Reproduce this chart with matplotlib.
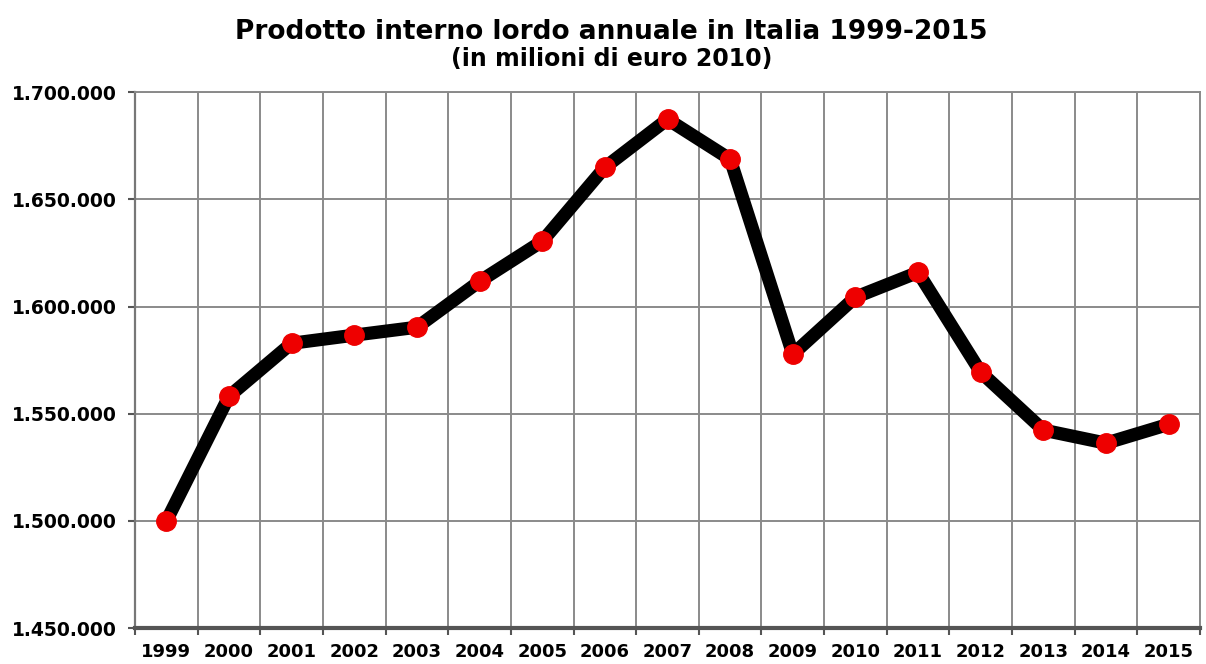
import matplotlib.pyplot as plt
from matplotlib.ticker import FuncFormatter

years = ["1999", "2000", "2001", "2002", "2003", "2004", "2005", "2006", "2007",
         "2008", "2009", "2010", "2011", "2012", "2013", "2014", "2015"]
pil = [1500000, 1558200, 1582900, 1586700, 1590400, 1611800, 1630500, 1665000, 1687400,
       1668800, 1577800, 1604400, 1616000, 1569400, 1542400, 1536300, 1545100]
y_ticks = [1450000, 1500000, 1550000, 1600000, 1650000, 1700000]


def migliaia(v, pos):
    return f"{int(v):,}".replace(",", ".")


fig = plt.figure(figsize=(12.06, 6.64), dpi=100)
ax = fig.add_axes([0.112, 0.054, 0.883, 0.807])

x = list(range(len(years)))
ax.plot(x, pil, color="black", linewidth=9.5, solid_joinstyle="round", zorder=3)
ax.plot(x, pil, linestyle="none", marker="o", markersize=14,
        markerfacecolor="#ee0000", markeredgecolor="#ee0000", zorder=4)

ax.set_xlim(-0.5, len(years) - 0.5)
ax.set_ylim(1450000, 1700000)
ax.set_yticks(y_ticks)
ax.yaxis.set_major_formatter(FuncFormatter(migliaia))

# vertical grid sits between the years, on the category boundaries
ax.set_xticks([i + 0.5 for i in range(-1, len(years))], minor=False)
ax.set_xticklabels([])
ax.set_xticks(x, minor=True)
ax.set_xticklabels(years, minor=True)
ax.tick_params(axis="x", which="major", length=5, width=1.5, color="#555555", direction="out")
ax.tick_params(axis="x", which="minor", length=0, pad=11)
ax.tick_params(axis="y", length=5, width=1.5, color="#555555", pad=8)
for lab in ax.get_xticklabels(minor=True):
    lab.set_fontweight("bold")
    lab.set_fontsize(13)
for lab in ax.get_yticklabels():
    lab.set_fontweight("bold")
    lab.set_fontsize(13.5)

ax.grid(True, which="major", color="#8a8a8a", linewidth=1.4)
for side in ["top", "right"]:
    ax.spines[side].set_color("#8a8a8a")
    ax.spines[side].set_linewidth(1.4)
ax.spines["left"].set_color("#777777")
ax.spines["left"].set_linewidth(1.6)
ax.spines["bottom"].set_color("#555555")
ax.spines["bottom"].set_linewidth(3)

fig.text(0.507, 0.952, "Prodotto interno lordo annuale in Italia 1999-2015",
         ha="center", va="center", fontsize=19, fontweight="bold")
fig.text(0.507, 0.911, "(in milioni di euro 2010)",
         ha="center", va="center", fontsize=17, fontweight="bold")

fig.savefig("out.png", dpi=100)
